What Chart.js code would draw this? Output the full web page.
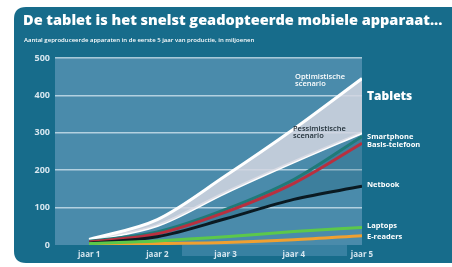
<!DOCTYPE html>
<html><head><meta charset="utf-8">
<script src="https://cdn.jsdelivr.net/npm/chart.js@4"></script>
<style>html,body{margin:0;padding:0;background:#fff;}#wrap{width:452px;height:267px;position:relative;}</style>
</head><body><div id="wrap"><canvas id="c" width="452" height="267"></canvas></div>
<script>
const categories = ['jaar 1', 'jaar 2', 'jaar 3', 'jaar 4', 'jaar 5'];
const yTicks = [0, 100, 200, 300, 400, 500];
const optimistisch = [15, 68, 185, 310, 445];
const pessimistisch = [12, 52, 140, 222, 300];
const smartphone = [10, 35, 95, 175, 290];
const basisTelefoon = [8, 30, 88, 165, 272];
const netbook = [5, 22, 70, 122, 157];
const laptops = [4, 11, 22, 36, 47];
const eReaders = [1, 4, 7, 14, 25];
const title = 'De tablet is het snelst geadopteerde mobiele apparaat...';
const subtitle = 'Aantal geproduceerde apparaten in de eerste 5 jaar van productie, in miljoenen';

const pts = arr => arr.map((v, i) => ({x: i + 1, y: v}));
const FONT = '"Open Sans", "DejaVu Sans", sans-serif';
const CARD = '#176c8b';
const PLOT = '#4a8bab';

const bgPlugin = {
  id: 'bg',
  beforeDraw(chart) {
    const ctx = chart.ctx, a = chart.chartArea;
    ctx.save();
    ctx.fillStyle = '#ffffff';
    ctx.fillRect(0, 0, chart.width, chart.height);
    const x0 = 14, y0 = 7, x1 = chart.width + 20, y1 = 263, r = 12;
    ctx.fillStyle = CARD;
    ctx.beginPath();
    ctx.moveTo(x0 + r, y0);
    ctx.lineTo(x1, y0);
    ctx.lineTo(x1, y1);
    ctx.lineTo(x0 + r, y1);
    ctx.quadraticCurveTo(x0, y1, x0, y1 - r);
    ctx.lineTo(x0, y0 + r);
    ctx.quadraticCurveTo(x0, y0, x0 + r, y0);
    ctx.fill();
    ctx.fillStyle = PLOT;
    ctx.fillRect(a.left, a.top, a.right - a.left, a.bottom - a.top);
    ctx.fillStyle = 'rgba(90,150,185,0.5)';
    ctx.fillRect(182, a.bottom, 165, 11);
    ctx.restore();
  },
  afterDraw(chart) {
    const ctx = chart.ctx;
    ctx.save();
    ctx.textBaseline = 'middle';
    ctx.fillStyle = '#ffffff';
    ctx.font = '800 14.5px ' + FONT;
    ctx.fillText(title, 23, 21);
    ctx.font = '600 6px ' + FONT;
    ctx.fillText(subtitle, 24, 40);
    ctx.font = '800 12px ' + FONT;
    ctx.fillText('Tablets', 367, 97);
    ctx.font = '700 7.5px ' + FONT;
    ctx.fillText('Smartphone', 367, 137);
    ctx.fillText('Basis-telefoon', 367, 145);
    ctx.fillText('Netbook', 367, 185);
    ctx.fillText('Laptops', 367, 226);
    ctx.fillText('E-readers', 367, 237);
    ctx.font = '600 7.5px ' + FONT;
    ctx.fillText('Optimistische', 295, 77);
    ctx.fillText('scenario', 295, 84);
    ctx.fillStyle = '#1c2a33';
    ctx.fillText('Pessimistische', 293, 129);
    ctx.fillText('scenario', 293, 136);
    ctx.restore();
  }
};

const line = (label, data, color, width, extra) => Object.assign({
  label, data: pts(data), borderColor: color, borderWidth: width,
  pointRadius: 0, tension: 0.4, cubicInterpolationMode: 'monotone', fill: false
}, extra || {});

new Chart(document.getElementById('c'), {
  type: 'line',
  data: {
    datasets: [
      line('Laptops', laptops, '#5cc84a', 3),
      line('E-readers', eReaders, '#f0a030', 3),
      line('Netbook', netbook, '#0a1a22', 3),
      line('Basis-telefoon', basisTelefoon, '#b8303f', 3),
      line('Smartphone', smartphone, '#1f7a78', 3,
           {fill: 2, backgroundColor: 'rgba(20,85,110,0.22)'}),
      line('Optimistisch scenario', optimistisch, '#ffffff', 3,
           {fill: '+1', backgroundColor: 'rgba(212,214,224,0.85)'}),
      line('Pessimistisch scenario', pessimistisch, '#ffffff', 3)
    ]
  },
  options: {
    responsive: false, animation: false,
    layout: {padding: {left: 0, right: 90, top: 58, bottom: 0}},
    plugins: {legend: {display: false}, tooltip: {enabled: false}},
    scales: {
      x: {
        type: 'linear', min: 0.5, max: 5,
        afterBuildTicks: s => { s.ticks = categories.map((c, i) => ({value: i + 1})); },
        afterFit: s => { s.height = 22; },
        grid: {display: false, drawTicks: false}, border: {display: false},
        ticks: {color: '#d6e6ef', font: {family: FONT, size: 8, weight: '700'}, padding: 5,
                callback: v => categories[v - 1]}
      },
      y: {
        min: 0, max: 500,
        afterBuildTicks: s => { s.ticks = yTicks.map(v => ({value: v})); },
        afterFit: s => { s.width = 55; },
        grid: {color: ctx => ctx.tick && ctx.tick.value === 0 ? 'rgba(0,0,0,0)' : 'rgba(215,232,242,0.75)', lineWidth: 1.5, drawTicks: false},
        border: {display: false},
        ticks: {color: '#d6e6ef', font: {family: FONT, size: 9, weight: '700'}, padding: 5}
      }
    }
  },
  plugins: [bgPlugin]
});
</script></body></html>
